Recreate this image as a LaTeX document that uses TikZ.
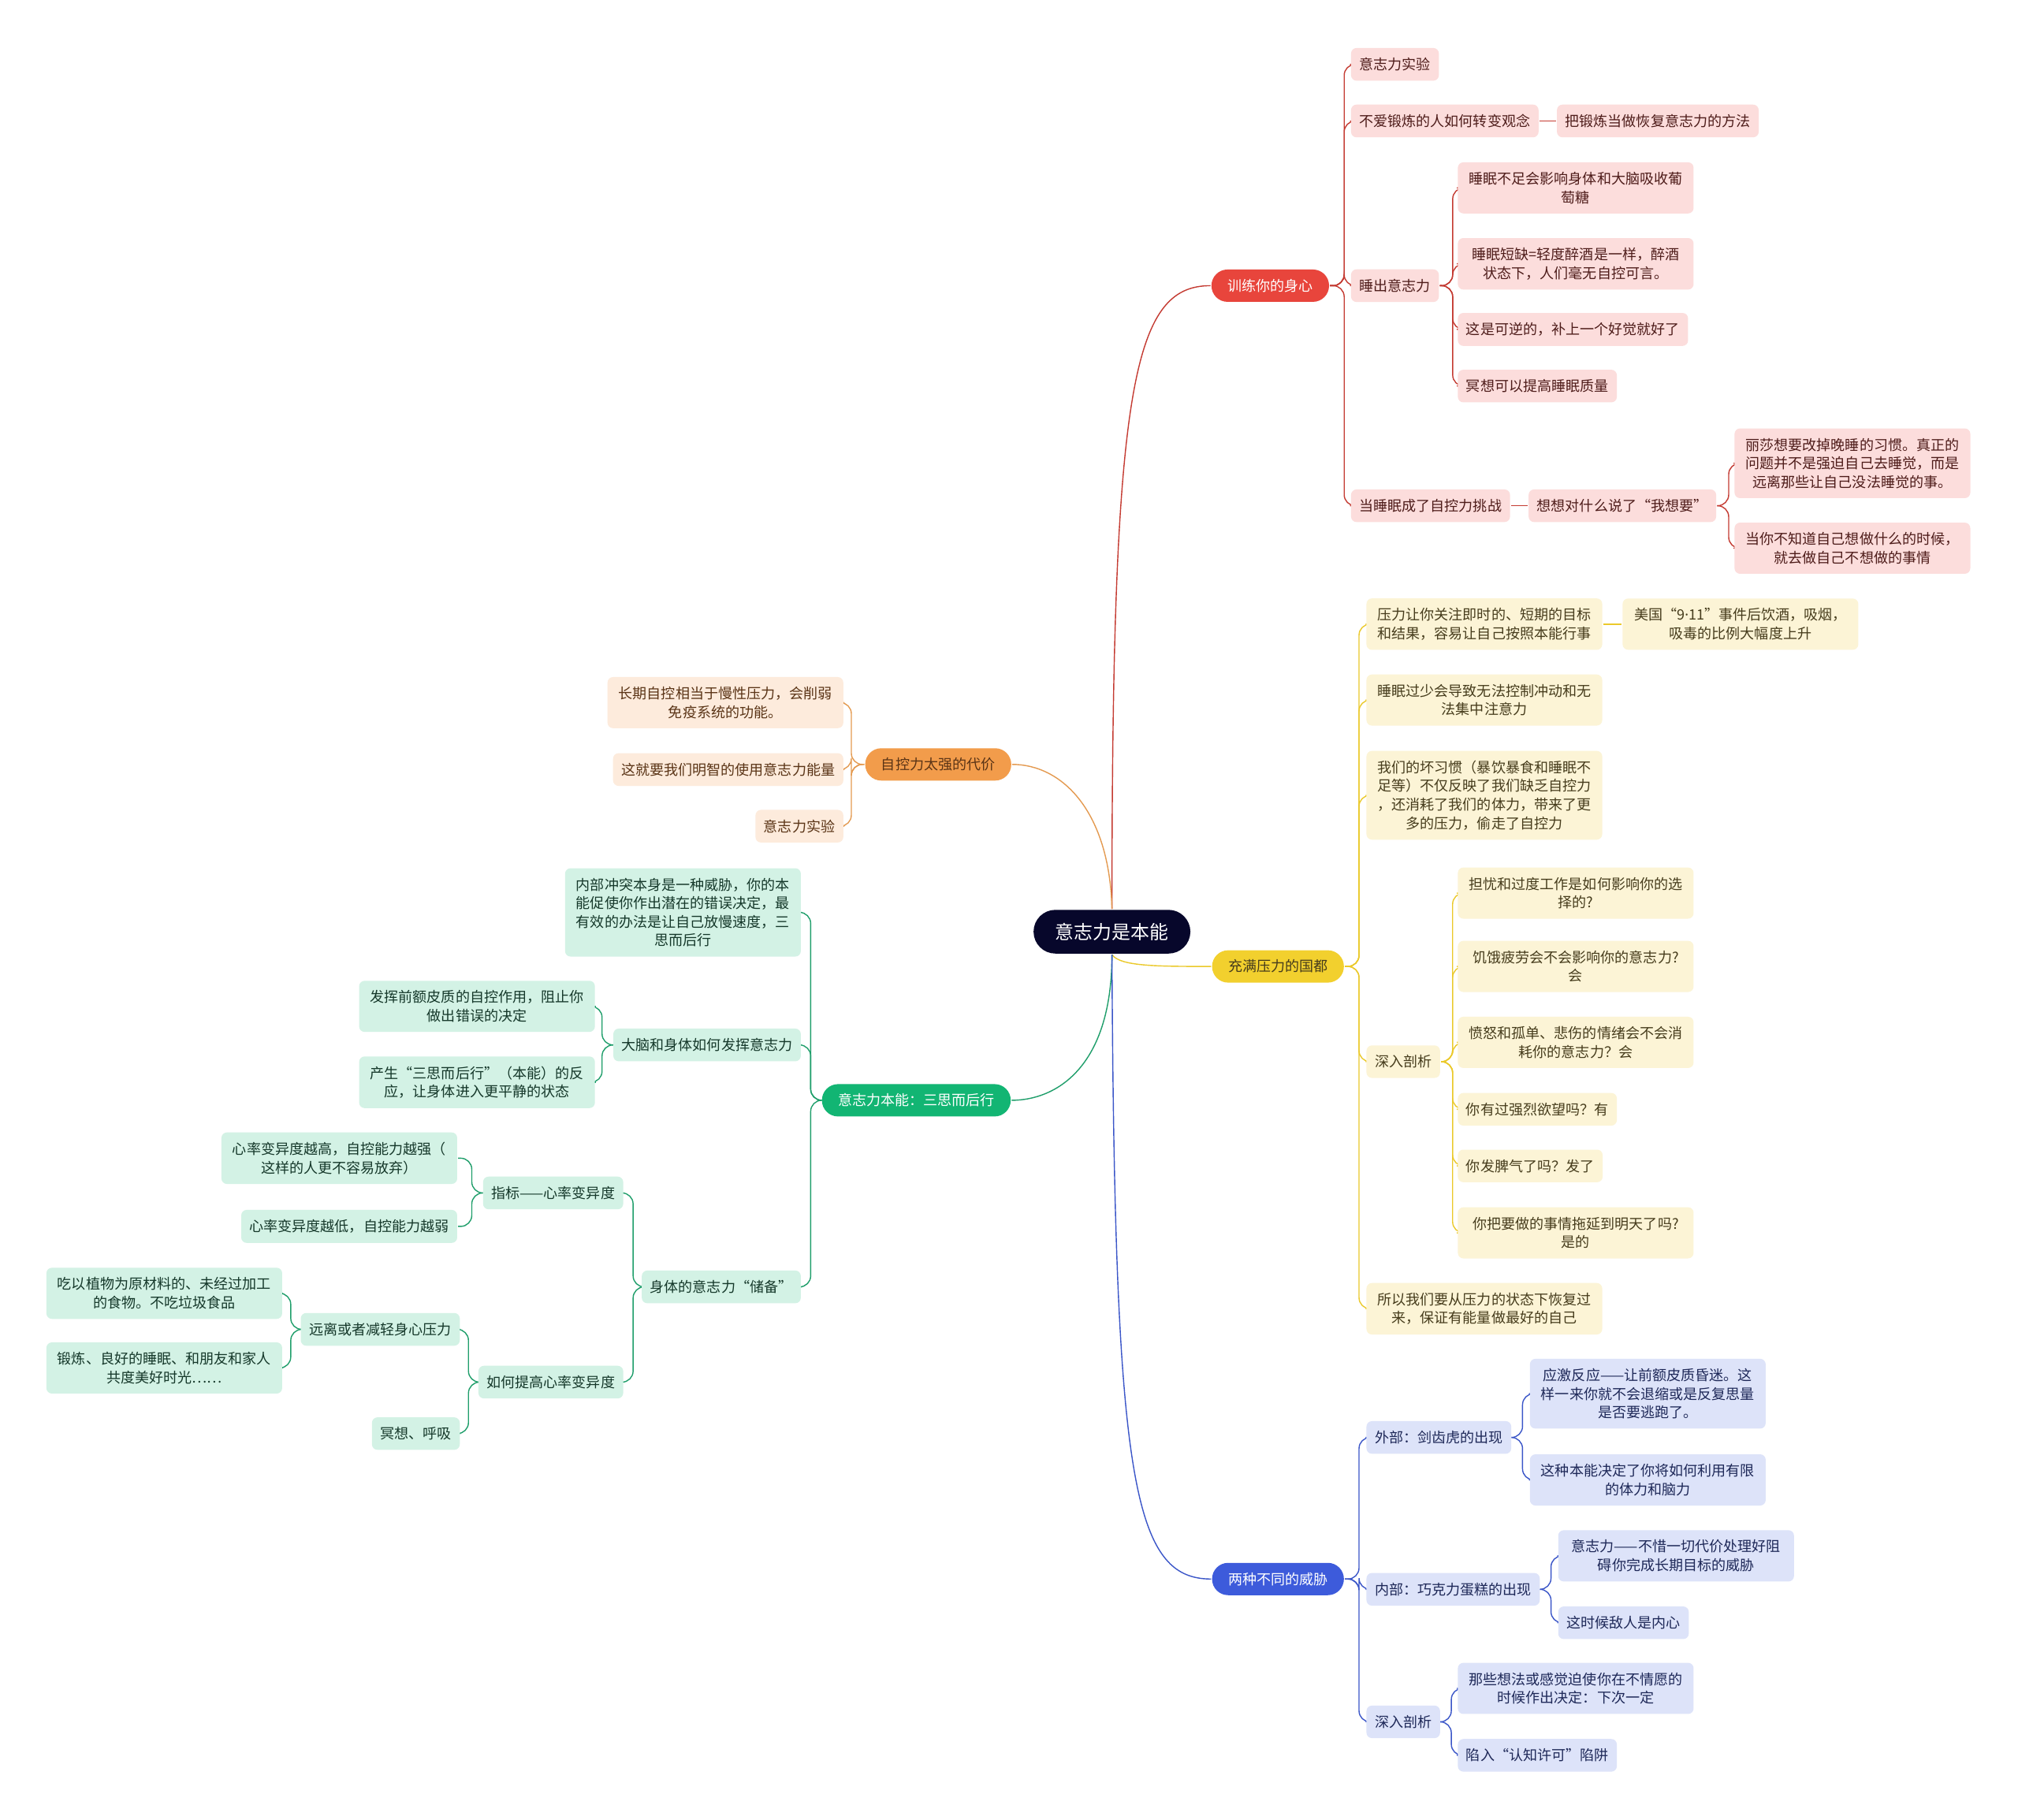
\documentclass[tikz,border=0pt]{standalone}
\usepackage{fontspec}
\setmainfont{Noto Sans CJK SC}
\newfontfamily\latinfont{Noto Sans}
\usetikzlibrary{backgrounds}
\definecolor{rootnavy}{HTML}{07072B}
\definecolor{trainred}{HTML}{E8453C}
\definecolor{trainline}{HTML}{C43A31}
\definecolor{trainpink}{HTML}{FCDDDC}
\definecolor{trainink}{HTML}{4E1C1A}
\definecolor{stressyel}{HTML}{F2D02E}
\definecolor{stressline}{HTML}{EBC92A}
\definecolor{stresscream}{HTML}{FCF4D6}
\definecolor{stressink}{HTML}{463C1C}
\definecolor{threatblue}{HTML}{3D5BDB}
\definecolor{threatline}{HTML}{3A55C8}
\definecolor{threatlav}{HTML}{DDE3F9}
\definecolor{threatink}{HTML}{1E2858}
\definecolor{costorange}{HTML}{F29C4B}
\definecolor{costline}{HTML}{E49A50}
\definecolor{costpeach}{HTML}{FDEBDC}
\definecolor{costink}{HTML}{5A3416}
\definecolor{instgreen}{HTML}{12B573}
\definecolor{instline}{HTML}{1E9E6A}
\definecolor{instmint}{HTML}{D3F2E5}
\definecolor{instink}{HTML}{15382A}
\newcommand\leaffont{\fontsize{5.14pt}{6.7pt}\selectfont}
\newcommand\rootfont{\fontsize{6.8pt}{8pt}\selectfont}

\begin{document}
\begin{tikzpicture}[x=0.016327cm, y=-0.016327cm, line width=0.7pt,
  root/.style={fill=rootnavy, text=white, font=\rootfont, rounded corners=7.9pt,
    inner xsep=7.9pt, inner ysep=0pt, minimum height=0.555cm},
  topic/.style={font=\leaffont, rounded corners=5.8pt, inner xsep=5.8pt,
    inner ysep=0pt, minimum height=0.41cm},
  leaf/.style={font=\leaffont, align=center, rounded corners=2pt, inner xsep=3pt,
    inner ysep=3.5pt, minimum height=0.4cm},
  wrap/.style={text width=2.78cm},
  trtopic/.style={topic, fill=trainred, text=white},
  trleaf/.style={leaf, anchor=west, fill=trainpink, text=trainink},
  trln/.style={draw=trainline, rounded corners=4pt},
  sttopic/.style={topic, fill=stressyel, text=stressink},
  stleaf/.style={leaf, anchor=west, fill=stresscream, text=stressink},
  stln/.style={draw=stressline, rounded corners=4pt},
  thtopic/.style={topic, fill=threatblue, text=white},
  thleaf/.style={leaf, anchor=west, fill=threatlav, text=threatink},
  thln/.style={draw=threatline, rounded corners=4pt},
  cotopic/.style={topic, fill=costorange, text=costink},
  coleaf/.style={leaf, anchor=east, fill=costpeach, text=costink},
  coln/.style={draw=costline, rounded corners=4pt},
  intopic/.style={topic, fill=instgreen, text=white},
  inleaf/.style={leaf, anchor=east, fill=instmint, text=instink},
  inln/.style={draw=instline, rounded corners=4pt}]

\useasboundingbox (0,0) rectangle (1568,1414);

% --- Root ---
\node[root] (root) at (864,724) {意志力是本能};

% --- 训练你的身心 ---
\node[trtopic] (train) at (987,222) {训练你的身心};
\node[trleaf] (trexp) at (1049,50) {意志力实验};
\node[trleaf] (trhabit) at (1049,94) {不爱锻炼的人如何转变观念};
\node[trleaf] (trmethod) at (1209,94) {把锻炼当做恢复意志力的方法};
\node[trleaf] (trsleep) at (1049,222) {睡出意志力};
\node[trleaf, wrap] (trsleepa) at (1132,146) {睡眠不足会影响身体和大脑吸收葡\\萄糖};
\node[trleaf, wrap] (trsleepb) at (1132,205) {睡眠短缺=轻度醉酒是一样，醉酒\\状态下，人们毫无自控可言。};
\node[trleaf] (trsleepc) at (1132,256) {这是可逆的，补上一个好觉就好了};
\node[trleaf] (trsleepd) at (1132,300) {冥想可以提高睡眠质量};
\node[trleaf] (trchal) at (1049,393) {当睡眠成了自控力挑战};
\node[trleaf] (trwant) at (1187,393) {想想对什么说了“我想要”};
\node[trleaf, wrap] (trwanta) at (1347,360) {丽莎想要改掉晚睡的习惯。真正的\\问题并不是强迫自己去睡觉，而是\\远离那些让自己没法睡觉的事。};
\node[trleaf, wrap] (trwantb) at (1347,426) {当你不知道自己想做什么的时候，\\就去做自己不想做的事情};

% --- 充满压力的国都 ---
\node[sttopic] (stress) at (993,751) {充满压力的国都};
\node[stleaf, wrap] (stfocus) at (1061,485) {压力让你关注即时的、短期的目标\\和结果，容易让自己按照本能行事};
\node[stleaf, wrap] (st911) at (1260,485) {美国“9{\latinfont ·}11”事件后饮酒，吸烟，\\吸毒的比例大幅度上升};
\node[stleaf, wrap] (stsleep) at (1061,544) {睡眠过少会导致无法控制冲动和无\\法集中注意力};
\node[stleaf, wrap] (sthabit) at (1061,618) {我们的坏习惯（暴饮暴食和睡眠不\\足等）不仅反映了我们缺乏自控力\\，还消耗了我们的体力，带来了更\\多的压力，偷走了自控力};
\node[stleaf] (stdeep) at (1061,825) {深入剖析};
\node[stleaf, wrap] (stdeepa) at (1132,694) {担忧和过度工作是如何影响你的选\\择的?};
\node[stleaf, wrap] (stdeepb) at (1132,751) {饥饿疲劳会不会影响你的意志力?\\会};
\node[stleaf, wrap] (stdeepc) at (1132,810) {愤怒和孤单、悲伤的情绪会不会消\\耗你的意志力？会};
\node[stleaf] (stdeepd) at (1132,862) {你有过强烈欲望吗？有};
\node[stleaf] (stdeepe) at (1132,906) {你发脾气了吗？发了};
\node[stleaf, wrap] (stdeepf) at (1132,958) {你把要做的事情拖延到明天了吗?\\是的};
\node[stleaf, wrap] (strecover) at (1061,1017) {所以我们要从压力的状态下恢复过\\来，保证有能量做最好的自己};

% --- 两种不同的威胁 ---
\node[thtopic] (threat) at (993,1227) {两种不同的威胁};
\node[thleaf] (thout) at (1061,1117) {外部：剑齿虎的出现};
\node[thleaf, wrap] (thouta) at (1188,1083) {应激反应——让前额皮质昏迷。这\\样一来你就不会退缩或是反复思量\\是否要逃跑了。};
\node[thleaf, wrap] (thoutb) at (1188,1150) {这种本能决定了你将如何利用有限\\的体力和脑力};
\node[thleaf] (thin) at (1061,1235) {内部：巧克力蛋糕的出现};
\node[thleaf, wrap] (thina) at (1210,1209) {意志力——不惜一切代价处理好阻\\碍你完成长期目标的威胁};
\node[thleaf] (thinb) at (1210,1261) {这时候敌人是内心};
\node[thleaf] (thdeep) at (1061,1338) {深入剖析};
\node[thleaf, wrap] (thdeepa) at (1132,1312) {那些想法或感觉迫使你在不情愿的\\时候作出决定：下次一定};
\node[thleaf] (thdeepb) at (1132,1364) {陷入“认知许可”陷阱};

% --- 自控力太强的代价 ---
\node[cotopic] (cost) at (729,594) {自控力太强的代价};
\node[coleaf, wrap] (costa) at (656,546) {长期自控相当于慢性压力，会削弱\\免疫系统的功能。};
\node[coleaf] (costb) at (656,598) {这就要我们明智的使用意志力能量};
\node[coleaf] (costc) at (656,642) {意志力实验};

% --- 意志力本能：三思而后行 ---
\node[intopic] (inst) at (712,855) {意志力本能：三思而后行};
\node[inleaf, wrap] (insconf) at (623,709) {内部冲突本身是一种威胁，你的本\\能促使你作出潜在的错误决定，最\\有效的办法是让自己放慢速度，三\\思而后行};
\node[inleaf] (insbrain) at (623,812) {大脑和身体如何发挥意志力};
\node[inleaf, wrap] (insbraina) at (463,782) {发挥前额皮质的自控作用，阻止你\\做出错误的决定};
\node[inleaf, wrap] (insbrainb) at (463,841) {产生“三思而后行”（本能）的反\\应，让身体进入更平静的状态};
\node[inleaf] (insreserve) at (623,1000) {身体的意志力“储备”};
\node[inleaf] (insindex) at (485,927) {指标——心率变异度};
\node[inleaf, wrap] (insindexa) at (356,900) {心率变异度越高，自控能力越强（\\这样的人更不容易放弃）};
\node[inleaf] (insindexb) at (356,953) {心率变异度越低，自控能力越弱};
\node[inleaf] (insraise) at (485,1074) {如何提高心率变异度};
\node[inleaf] (insaway) at (358,1033) {远离或者减轻身心压力};
\node[inleaf, wrap] (insawaya) at (220,1005) {吃以植物为原材料的、未经过加工\\的食物。不吃垃圾食品};
\node[inleaf, wrap] (insawayb) at (220,1063) {锻炼、良好的睡眠、和朋友和家人\\共度美好时光……};
\node[inleaf] (insbreath) at (358,1114) {冥想、呼吸};

% --- Connectors (behind the nodes) ---
\begin{scope}[on background layer]
% Background
\fill[white] (0,0) rectangle (1568,1414);

% root to topics
\draw[trainline] (root.north) .. controls (864,300) and (880,222) .. (train.west);
\draw[costline] (root.north) .. controls (862,630) and (825,594) .. (cost.east);
\draw[stressline] (root.south) .. controls (870,751) and (900,751) .. (stress.west);
\draw[instline] (root.south) .. controls (864,830) and (820,855) .. (inst.east);
\draw[threatline] (root.south) .. controls (866,1150) and (880,1227) .. (threat.west);

% red branch
\foreach \c in {trexp,trhabit,trsleep,trchal}
  \draw[trln] (train.east) -- ++(11,0) |- (\c.west);
\draw[trln] (trhabit.east) -- (trmethod.west);
\foreach \c in {trsleepa,trsleepb,trsleepc,trsleepd}
  \draw[trln] (trsleep.east) -- ++(10,0) |- (\c.west);
\draw[trln] (trchal.east) -- (trwant.west);
\foreach \c in {trwanta,trwantb}
  \draw[trln] (trwant.east) -- ++(9,0) |- (\c.west);

% yellow branch
\foreach \c in {stfocus,stsleep,sthabit,stdeep,strecover}
  \draw[stln] (stress.east) -- ++(11,0) |- (\c.west);
\draw[stln] (stfocus.east) -- (st911.west);
\foreach \c in {stdeepa,stdeepb,stdeepc,stdeepd,stdeepe,stdeepf}
  \draw[stln] (stdeep.east) -- ++(9,0) |- (\c.west);

% blue branch
\foreach \c in {thout,thin,thdeep}
  \draw[thln] (threat.east) -- ++(11,0) |- (\c.west);
\foreach \c in {thouta,thoutb}
  \draw[thln] (thout.east) -- ++(8,0) |- (\c.west);
\foreach \c in {thina,thinb}
  \draw[thln] (thin.east) -- ++(8,0) |- (\c.west);
\foreach \c in {thdeepa,thdeepb}
  \draw[thln] (thdeep.east) -- ++(8,0) |- (\c.west);

% orange branch
\foreach \c in {costa,costb,costc}
  \draw[coln] (cost.west) -- ++(-10,0) |- (\c.east);

% green branch
\foreach \c in {insconf,insbrain,insreserve}
  \draw[inln] (inst.west) -- ++(-8,0) |- (\c.east);
\foreach \c in {insbraina,insbrainb}
  \draw[inln] (insbrain.west) -- ++(-8,0) |- (\c.east);
\foreach \c in {insindex,insraise}
  \draw[inln] (insreserve.west) -- ++(-6,0) |- (\c.east);
\foreach \c in {insindexa,insindexb}
  \draw[inln] (insindex.west) -- ++(-8,0) |- (\c.east);
\foreach \c in {insaway,insbreath}
  \draw[inln] (insraise.west) -- ++(-7,0) |- (\c.east);
\foreach \c in {insawaya,insawayb}
  \draw[inln] (insaway.west) -- ++(-7,0) |- (\c.east);
\end{scope}

\end{tikzpicture}
\end{document}
